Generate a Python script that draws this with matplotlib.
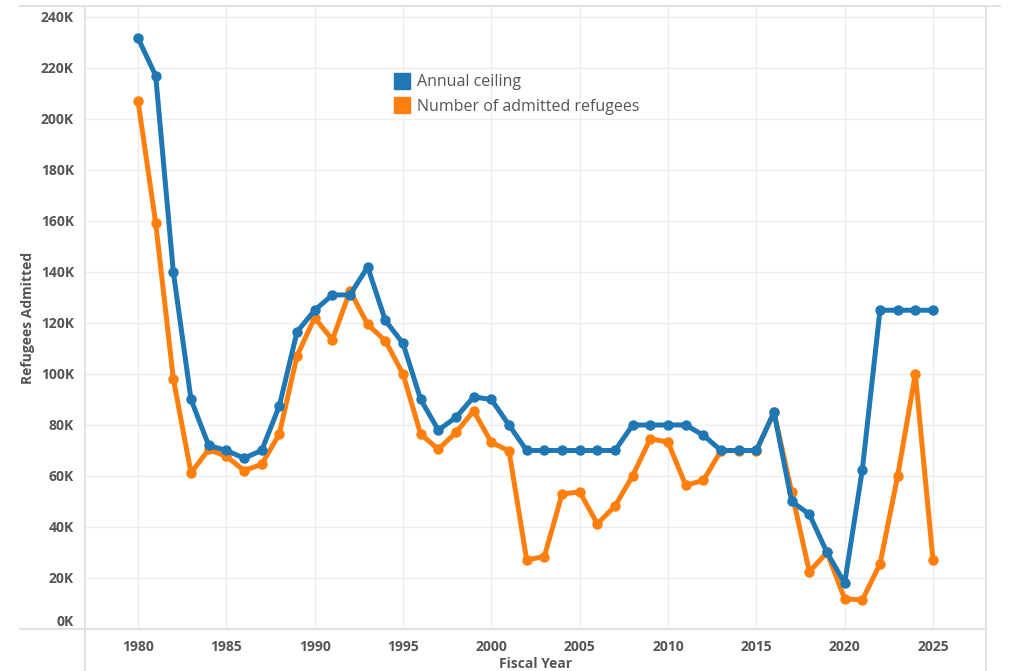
import matplotlib.pyplot as plt
from matplotlib.lines import Line2D
from matplotlib.patches import Rectangle
from matplotlib.ticker import FuncFormatter

plt.rcParams['font.family'] = ['Open Sans', 'DejaVu Sans']

# fiscal years and refugee numbers
years = list(range(1980, 2026))
ceiling = [231700, 217000, 140000, 90000, 72000, 70000, 67000, 70000, 87500, 116500,
           125000, 131000, 131000, 142000, 121000, 112000, 90000, 78000, 83000, 91000,
           90000, 80000, 70000, 70000, 70000, 70000, 70000, 70000, 80000, 80000,
           80000, 80000, 76000, 70000, 70000, 70000, 85000, 50000, 45000, 30000,
           18000, 62500, 125000, 125000, 125000, 125000]
admitted = [207116, 159252, 98096, 61218, 70393, 67704, 62146, 64528, 76483, 107070,
            122066, 113389, 132531, 119448, 112981, 99974, 76403, 70488, 77080, 85525,
            73147, 69886, 27131, 28403, 52868, 53813, 41223, 48218, 60107, 74602,
            73293, 56384, 58238, 69926, 69987, 69933, 84994, 53716, 22491, 30000,
            11814, 11411, 25465, 60014, 100034, 27000]

blue = '#1f77b4'
orange = '#ff7f0e'
grey = '#555555'

fig = plt.figure(figsize=(10.24, 6.71), dpi=100)
ax = fig.add_axes([85 / 1024, 42 / 671, 901 / 1024, 623 / 671])

ax.plot(years, admitted, color=orange, lw=3.6, marker='o', ms=6.5, zorder=3)
ax.plot(years, ceiling, color=blue, lw=3.6, marker='o', ms=6.5, zorder=4)

ax.set_xlim(1977, 2028)
ax.set_ylim(0, 244300)
ax.set_xticks(range(1980, 2026, 5))
ax.set_yticks(range(0, 240001, 20000))
ax.yaxis.set_major_formatter(FuncFormatter(lambda v, p: f'{int(v / 1000)}K'))
ax.grid(True, color='#eeeeee', lw=1, zorder=0)
ax.tick_params(length=0, labelsize=10, labelcolor=grey, pad=8)
for lab in ax.get_xticklabels() + ax.get_yticklabels():
    lab.set_fontweight('bold')
# 0K label sits just above the axis line
ax.yaxis.get_major_ticks()[0].label1.set_verticalalignment('bottom')
for s in ax.spines.values():
    s.set_visible(False)

ax.set_xlabel('Fiscal Year', fontsize=10, fontweight='bold', color=grey, labelpad=2)
ax.set_ylabel('Refugees Admitted', fontsize=10, fontweight='bold', color=grey, labelpad=4)

# pane borders in tableau style
W, H = 1024, 671
def fline(x0, y0, x1, y1):
    fig.add_artist(Line2D([x0 / W, x1 / W], [1 - y0 / H, 1 - y1 / H], color='#e2e2e2', lw=1.5))
fline(20, 6, 1000, 6)
fline(20, 629, 986, 629)
fline(85, 6, 85, 671)
fline(986, 6, 986, 671)

# legend box
ax.add_patch(Rectangle(((390 - 85) / 901, (629 - 142) / 623), 433 / 901, 75 / 623,
                       transform=ax.transAxes, facecolor='white', edgecolor='none', zorder=1.5))
handles = [Line2D([], [], color=blue, marker='s', ms=12, ls='none'),
           Line2D([], [], color=orange, marker='s', ms=12, ls='none')]
ax.legend(handles, ['Annual ceiling', 'Number of admitted refugees'],
          loc='upper left', bbox_to_anchor=((384 - 85) / 901, (629 - 63) / 623),
          frameon=False, fontsize=11.5, labelcolor=grey, handlelength=0.8,
          handletextpad=0.55, labelspacing=0.55, borderpad=0.2)

fig.savefig('out.png', dpi=100)
